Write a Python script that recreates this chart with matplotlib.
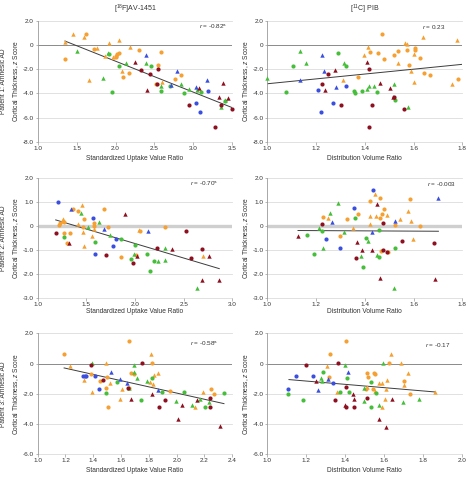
import numpy as np
import matplotlib.pyplot as plt
from matplotlib.ticker import FuncFormatter

plt.rcParams['font.family'] = ['Liberation Sans', 'DejaVu Sans']
plt.rcParams['mathtext.fontset'] = 'custom'
plt.rcParams['mathtext.rm'] = 'Liberation Sans'
plt.rcParams['mathtext.it'] = 'Liberation Sans:italic'

# ----- Data (x, y) per marker group -----
# groups: colour + marker ("o" circle, "^" triangle)
p1 = {
    "orange o": [(1.62, 0.92), (1.35, -1.15), (1.72, -0.32), (2.00, -1.01), (2.02, -0.76), (2.04, -0.68),
                 (2.01, -0.87), (2.10, -2.67), (2.17, -2.28), (2.30, -0.43), (2.58, -0.54), (2.55, -1.67),
                 (2.52, -3.22), (2.77, -2.83), (2.84, -2.45)],
    "orange ^": [(1.45, 0.92), (1.60, 0.65), (1.35, 0.23), (1.66, -2.89), (1.76, -0.21), (1.92, 0.15),
                 (1.87, -0.90), (2.05, 0.45), (2.08, -2.14), (2.19, -0.13), (2.60, -3.06), (1.97, -0.95)],
    "green o": [(1.96, -3.86), (1.91, -0.71), (2.05, -1.73), (2.46, -1.76), (2.59, -3.83), (2.70, -3.36),
                (2.88, -3.99), (3.10, -3.88), (3.41, -4.66)],
    "green ^": [(1.50, -0.51), (1.84, -2.72), (1.90, -0.62), (2.14, -1.51), (2.39, -1.51), (2.84, -3.22),
                (2.94, -3.66), (3.05, -3.69), (3.35, -5.10), (3.41, -4.55), (2.58, -3.38)],
    "blue o": [(3.19, -3.77), (3.04, -4.77), (3.08, -5.51)],
    "blue ^": [(2.39, -0.82), (2.79, -2.12), (2.71, -3.33), (3.04, -3.50), (3.17, -2.86)],
    "red o": [(2.33, -2.09), (2.44, -2.39), (2.54, -1.98), (2.53, -3.22), (2.95, -4.93), (3.35, -4.99),
              (3.50, -5.32), (3.28, -6.78)],
    "red ^": [(2.25, -1.40), (2.40, -3.69), (3.07, -3.58), (3.38, -3.17), (3.33, -4.33), (3.44, -4.35)],
}
p2 = {
    "orange o": [(1.372, -2.67), (1.421, -0.57), (1.453, -0.68), (1.47, 0.92), (1.48, -1.12), (1.518, -0.82),
                 (1.536, -0.51), (1.573, -0.43), (1.58, -1.65), (1.606, -0.27), (1.606, -0.40), (1.628, -1.04),
                 (1.641, -2.28), (1.666, -2.45), (1.782, -2.83)],
    "orange ^": [(1.312, -2.89), (1.397, -0.85), (1.414, -0.15), (1.536, -1.48), (1.566, 0.18), (1.575, 0.09),
                 (1.591, -2.14), (1.603, -0.73), (1.60, -3.03), (1.64, 0.65), (1.756, -3.19), (1.78, 0.45)],
    "green o": [(1.078, -3.88), (1.104, -1.70), (1.291, -0.68), (1.323, -1.73), (1.357, -3.83), (1.36, -3.99),
                (1.387, -3.77), (1.451, -3.91), (1.525, -4.55)],
    "green ^": [(1.0, -2.72), (1.134, -0.49), (1.157, -1.51), (1.316, -1.45), (1.409, -3.66), (1.416, -3.41),
                (1.438, -3.39), (1.521, -3.19), (1.576, -5.15)],
    "blue o": [(1.207, -3.75), (1.219, -5.54), (1.268, -4.77), (1.323, -3.36)],
    "blue ^": [(1.135, -2.89), (1.226, -0.82), (1.231, -2.12), (1.28, -3.50)],
    "red o": [(1.223, -3.19), (1.249, -2.39), (1.304, -4.93), (1.417, -1.98), (1.417, -6.78), (1.43, -4.99),
              (1.52, -4.33), (1.56, -5.32)],
    "red ^": [(1.237, -3.69), (1.276, -2.09), (1.41, -1.40), (1.462, -3.14), (1.502, -3.58), (1.516, -4.33)],
}
p3 = {
    "orange o": [(1.36, 0.72), (1.418, 0.63), (1.678, 0.69), (1.48, 0.29), (1.274, 0.18), (1.219, 0.03),
                 (1.233, 0.14), (1.462, -0.06), (1.575, 0.11), (1.58, 0.0), (1.72, -0.03), (1.27, -0.30),
                 (1.33, -0.29), (1.305, -0.70), (1.856, -1.28), (2.05, -0.21), (2.31, -0.03), (2.01, -1.22)],
    "orange ^": [(1.455, 0.86), (1.26, 0.29), (1.41, 0.07), (1.462, -0.25), (1.575, -0.14), (1.555, -0.40),
                 (1.48, -0.83), (2.042, -0.18), (2.70, -1.25), (1.25, 0.22)],
    "green o": [(1.27, -0.47), (1.586, -0.65), (1.856, -0.54), (2.0, -0.79), (1.96, -1.38), (2.123, -1.16),
                (2.195, -1.47), (2.154, -1.87)],
    "green ^": [(1.449, 0.54), (1.52, -0.06), (1.63, 0.15), (1.746, -0.37), (1.99, -1.17), (2.233, -1.44),
                (2.312, -0.90), (2.305, -1.40), (2.634, -2.59)],
    "blue o": [(1.212, 1.0), (1.568, 0.34), (1.808, -0.54), (1.77, -0.84), (1.592, -1.16)],
    "blue ^": [(1.339, 0.70), (1.685, -0.14), (2.13, -0.20)],
    "red o": [(1.185, -0.29), (1.702, -1.21), (1.98, -1.54), (2.226, -0.93), (2.524, -0.21), (2.572, -1.32),
              (2.689, -0.97)],
    "red ^": [(1.32, -0.70), (1.897, 0.49), (2.017, -1.25), (2.377, -0.96), (2.757, -1.23), (2.689, -2.25),
              (2.866, -2.24)],
}
p4 = {
    "orange o": [(1.373, 0.51), (1.326, 0.30), (1.227, 0.39), (1.30, -0.41), (1.462, 1.17), (1.423, 1.05),
                 (1.478, 0.71), (1.472, 0.51), (1.464, 0.32), (1.586, 1.12), (1.525, 0.03), (1.628, 0.0),
                 (1.465, -1.05), (1.496, -1.10)],
    "orange ^": [(1.248, 0.34), (1.353, -0.08), (1.44, 1.32), (1.422, 0.41), (1.447, 0.41), (1.49, 0.44),
                 (1.42, 0.10), (1.579, 0.61), (1.589, 0.21), (1.544, 0.28), (1.596, -0.56)],
    "green o": [(1.36, 0.32), (1.224, -0.22), (1.163, -0.36), (1.19, -1.18), (1.391, -1.72), (1.459, -0.15),
                (1.403, -0.51), (1.523, -0.93), (1.46, -1.29)],
    "green ^": [(1.29, 0.97), (1.257, 0.54), (1.212, -0.07), (1.313, -0.25), (1.228, -0.93), (1.386, -1.23),
                (1.412, -0.62), (1.448, -1.21), (1.52, -2.56)],
    "blue o": [(1.354, 0.75), (1.24, -0.56), (1.30, -0.92), (1.433, 1.49)],
    "blue ^": [(1.264, 0.17), (1.522, 0.22), (1.702, 1.17), (1.43, -0.25)],
    "red o": [(1.223, 0.06), (1.365, -1.34), (1.475, 0.14), (1.552, -0.64), (1.682, -0.72), (1.475, -1.0),
              (1.49, -1.08)],
    "red ^": [(1.126, -0.40), (1.37, -0.68), (1.389, -0.98), (1.449, 0.92), (1.43, -1.0), (1.463, -2.17),
              (1.689, -2.19)],
}
p5 = {
    "orange o": [(1.189, 0.63), (1.659, 1.49), (1.823, 0.06), (1.384, -0.71), (1.45, -1.13), (1.5, -0.86),
                 (1.49, -1.63), (1.504, -2.87), (1.66, -1.61), (1.671, -0.6), (1.69, -0.66), (1.952, -1.81),
                 (2.247, -1.68), (2.27, -2.03)],
    "orange ^": [(1.23, -0.16), (1.494, 0.04), (1.815, 0.63), (1.33, -1.1), (1.52, -1.28), (1.393, -1.9),
                 (1.59, -2.34), (1.61, -1.68), (1.806, -1.24), (1.827, -1.37), (1.863, -0.64), (1.835, -0.73),
                 (2.13, -2.87), (2.19, -1.88)],
    "green o": [(1.57, -1.24), (1.49, -1.96), (1.746, -2.43), (1.82, -0.97), (1.894, -1.88), (2.053, -1.88),
                (2.20, -2.85), (2.34, -1.92)],
    "green ^": [(1.393, 0.02), (1.695, -0.09), (1.69, -0.56), (1.712, -0.95), (1.784, -1.15), (1.998, -2.45),
                (2.108, -2.74), (2.168, -2.34), (2.23, -2.54), (1.66, -1.60)],
    "blue o": [(1.326, -0.82), (1.34, -0.82), (1.35, -0.82), (1.41, -0.82), (1.44, -1.7)],
    "blue ^": [(1.53, -0.55), (1.595, -1.02), (1.64, -1.3), (1.863, -1.74)],
    "red o": [(1.381, -0.07), (1.753, 0.06), (1.47, -1.1), (1.65, -1.59), (1.916, -2.43), (1.873, -2.87),
              (2.237, -2.87), (2.24, -2.27)],
    "red ^": [(1.67, -2.36), (1.825, -1.99), (2.036, -2.71), (2.007, -3.64), (2.146, -2.38), (2.312, -4.12)],
}
p6 = {
    "orange o": [(1.405, 1.49), (1.323, 0.63), (1.626, 0.06), (1.315, -0.86), (1.51, -0.64), (1.516, -0.86),
                 (1.549, -0.6), (1.552, -0.71), (1.506, -1.66), (1.54, -1.65), (1.699, -1.13), (1.733, -2.03)],
    "orange ^": [(1.636, 0.66), (1.308, -0.18), (1.685, 0.02), (1.356, -1.9), (1.575, -1.28), (1.586, -1.26),
                 (1.612, -1.08), (1.55, -1.81), (1.607, -1.68), (1.59, -2.89), (1.605, -2.36), (1.72, -0.64),
                 (1.70, -1.39), (1.862, -1.88), (1.51, -1.55)],
    "green o": [(1.287, -0.58), (1.407, -0.97), (1.373, -1.85), (1.417, -1.88), (1.108, -1.99), (1.181, -2.43),
                (1.53, -1.22), (1.559, -1.94), (1.53, -2.85)],
    "green ^": [(1.397, -0.07), (1.593, 0.04), (1.273, -0.97), (1.28, -1.13), (1.494, -1.59), (1.497, -2.45),
                (1.575, -2.74), (1.694, -2.52), (1.778, -2.34)],
    "blue o": [(1.147, -0.82), (1.236, -0.82), (1.337, -1.3), (1.108, -1.7)],
    "blue ^": [(1.414, -0.55), (1.313, -1.04), (1.262, -1.77)],
    "red o": [(1.197, -0.07), (1.362, 0.06), (1.403, -1.57), (1.345, -2.43), (1.443, -2.89), (1.405, -2.87),
              (1.511, -2.3)],
    "red ^": [(1.251, -1.13), (1.438, -2.03), (1.443, -2.36), (1.397, -2.74), (1.64, -2.36), (1.573, -3.64),
              (1.607, -4.17)],
}

# fitted regression line ends (x0, x1), (y0, y1)
fit_x = [(1.35, 3.50), (1.0, 1.80), (1.185, 2.866), (1.126, 1.702), (1.19, 2.34), (1.111, 1.862)]
fit_y = [(0.34, -5.18), (-3.20, -1.59), (0.25, -1.77), (-0.19, -0.22), (-0.29, -2.65), (-1.06, -1.88)]

r_text = [r"$\it{r}$ = -0.82$^{\rm a}$", r"$\it{r}$ = 0.23", r"$\it{r}$ = -0.70$^{\rm a}$",
          r"$\it{r}$ = -0.003", r"$\it{r}$ = -0.58$^{\rm a}$", r"$\it{r}$ = -0.17"]
titles = [r"[$^{18}$F]AV-1451", r"[$^{11}$C] PIB"]
patients = ["Patient 1: Amnesic AD", "Patient 2: Amnesic AD", "Patient 3: Amnesic AD"]
xlabels = ["Standardized Uptake Value Ratio", "Distribution Volume Ratio"]

xlims = [(1.0, 3.5, 0.5), (1.0, 1.8, 0.2), (1.0, 3.0, 0.5), (1.0, 1.8, 0.2), (1.0, 2.4, 0.2), (1.0, 2.0, 0.2)]
ylims = [(-8, 2, 2), (-8, 2, 2), (-3, 2, 1), (-3, 2, 1), (-6, 2, 2), (-6, 2, 2)]
r_pos = [(0.83, 0.953), (0.795, 0.953), (0.785, 0.948), (0.817, 0.948), (0.783, 0.911), (0.809, 0.904)]

colors = {"orange": "#F5A030", "green": "#45BE3A", "blue": "#3A4FE0", "red": "#8E1020"}

# ----- Figure -----
W, H = 468, 479
fig = plt.figure(figsize=(W / 100, H / 100), dpi=100)

lefts = [37.7, 267.3]
widths = [194.6, 195.0]
tops = [21.0, 177.7, 333.3]
bottoms = [141.7, 298.3, 454.3]
xlabel_y = [158.0, 311.5, 471.0]

fs = 4.6
fmt = FuncFormatter(lambda v, p: "0" if abs(v) < 1e-9 else "%.1f" % v)
panels = [p1, p2, p3, p4, p5, p6]

for i, pdata in enumerate(panels):
    row, col = divmod(i, 2)
    l, w = lefts[col], widths[col]
    t, b = tops[row], bottoms[row]
    ax = fig.add_axes([l / W, 1 - b / H, w / W, (b - t) / H])

    x0, x1, xs = xlims[i]
    y0, y1, ys = ylims[i]
    ax.set_xlim(x0, x1)
    ax.set_ylim(y0, y1)
    ax.set_xticks(np.arange(x0, x1 + 1e-9, xs))
    yt = np.arange(y0, y1 + 1e-9, ys)
    ax.set_yticks(yt)
    ax.xaxis.set_major_formatter(fmt)
    ax.yaxis.set_major_formatter(fmt)

    for s in ["top", "right", "bottom"]:
        ax.spines[s].set_visible(False)
    ax.spines["left"].set_color("#9a9a9a")
    ax.spines["left"].set_linewidth(0.6)
    ax.tick_params(axis="both", labelsize=fs, length=1.8, width=0.5, color="#9a9a9a",
                   pad=1.0, labelcolor="#333333")

    for v in yt:
        if abs(v) < 1e-9:
            continue
        ax.axhline(v, color="#dcdcdc", lw=0.6, zorder=0, clip_on=False)
    if row == 1:
        ax.axhline(0, color="#cfcfcf", lw=2.4, zorder=0.5)
    else:
        ax.axhline(0, color="#8a8a8a", lw=0.7, zorder=0.5)

    for key, pts in pdata.items():
        cname, mk = key.split()
        xy = np.array(pts)
        ax.scatter(xy[:, 0], xy[:, 1], s=9 if mk == "o" else 10, marker=mk,
                   color=colors[cname], linewidths=0, zorder=3, clip_on=False)

    ax.plot(fit_x[i], fit_y[i], color="#3c3c3c", lw=0.7, zorder=2)

    ax.text(r_pos[i][0], r_pos[i][1], r_text[i], transform=ax.transAxes,
            fontsize=fs, ha="left", va="center", color="#333333")

    cx = (l + w / 2) / W
    fig.text(cx, 1 - xlabel_y[row] / H, xlabels[col], fontsize=fs + 0.2, ha="center",
             va="center", color="#333333")
    if row == 0:
        fig.text(cx, 1 - 9.3 / H, titles[col], fontsize=fs + 0.4, ha="center",
                 va="center", color="#333333")

    cy = 1 - (t + b) / 2 / H
    ztxt = r"Cortical Thickness, $\it{z}$ Score"
    if col == 0:
        fig.text(4.0 / W, cy, patients[row], rotation=90, fontsize=fs + 0.2,
                 ha="center", va="center", color="#333333")
        fig.text(15.7 / W, cy, ztxt, rotation=90, fontsize=fs + 0.2,
                 ha="center", va="center", color="#333333")
    else:
        fig.text(245.7 / W, cy, ztxt, rotation=90, fontsize=fs + 0.2,
                 ha="center", va="center", color="#333333")

fig.savefig("out.png", dpi=100, facecolor="white")
